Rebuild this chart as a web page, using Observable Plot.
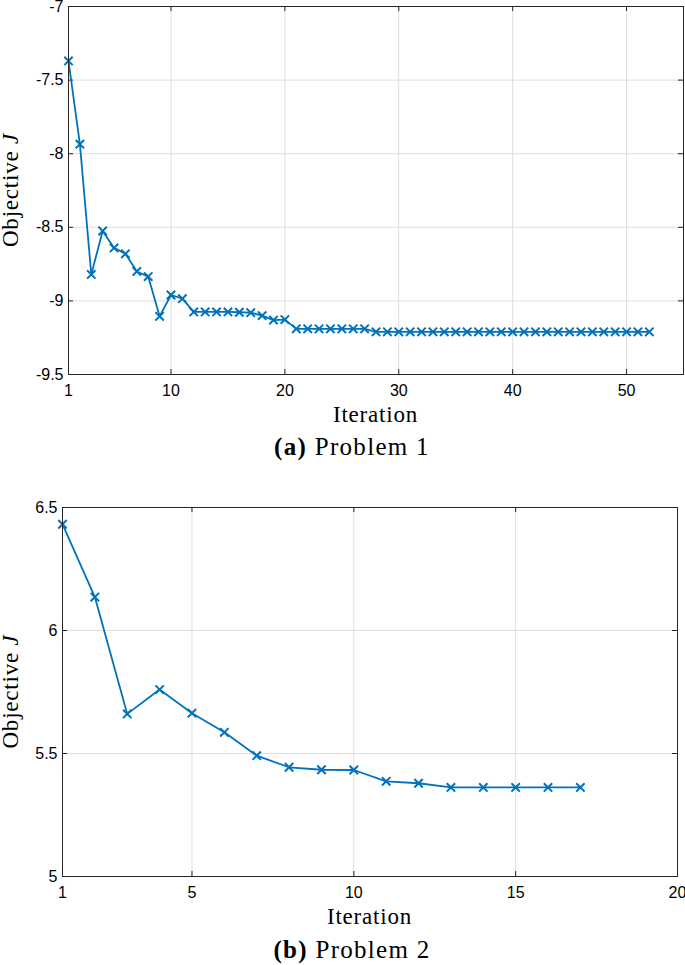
<!DOCTYPE html>
<html><head><meta charset="utf-8">
<script src="https://cdn.jsdelivr.net/npm/d3@7"></script>
<script src="https://cdn.jsdelivr.net/npm/@observablehq/plot@0.6"></script>
<style>
body{margin:0;background:#fff;}
#wrap{position:relative;width:685px;height:965px;overflow:hidden;background:#fff;}
#wrap svg{position:absolute;left:0;}
</style></head><body><div id="wrap"></div>
<script>
// ---- Data: Problem 1 (objective J per iteration, iterations 1..52) ----
const values1 = [
  -7.37, -7.935, -8.82, -8.525, -8.64, -8.68, -8.80, -8.835, -9.105, -8.96,
  -8.985, -9.075, -9.075, -9.075, -9.075, -9.077, -9.08, -9.10, -9.13, -9.127,
  -9.19, -9.19, -9.19, -9.19, -9.19, -9.19, -9.19,
  -9.21, -9.21, -9.21, -9.21, -9.21, -9.21, -9.21, -9.21, -9.21, -9.21,
  -9.21, -9.21, -9.21, -9.21, -9.21, -9.21, -9.21, -9.21, -9.21, -9.21,
  -9.21, -9.21, -9.21, -9.21, -9.21
];
const xTicks1 = [1, 10, 20, 30, 40, 50];
const yTicks1 = [-7, -7.5, -8, -8.5, -9, -9.5];

// ---- Data: Problem 2 (iterations 1..17) ----
const values2 = [
  6.432, 6.136, 5.661, 5.760, 5.664, 5.586, 5.491, 5.444, 5.434, 5.433,
  5.387, 5.379, 5.362, 5.362, 5.362, 5.362, 5.362
];
const xTicks2 = [1, 5, 10, 15, 20];
const yTicks2 = [5, 5.5, 6, 6.5];

const serif = "'Liberation Serif', 'DejaVu Serif', serif";
const sans = "'Liberation Sans', Arial, sans-serif";
const ink = "#262626";
const blue = "#0072BD";

function drawChart(o) {
  const W = 685;
  const data = o.values.map((v, i) => ({it: i + 1, v}));
  const ph = o.height - o.mt - o.mb, pw = W - o.ml - o.mr;
  const tk = 5;
  const svg = Plot.plot({
    width: W, height: o.height,
    marginTop: o.mt, marginBottom: o.mb, marginLeft: o.ml, marginRight: o.mr,
    style: {fontFamily: sans, fontSize: "15px", color: "#000", background: "#fff", overflow: "visible"},
    x: {domain: o.xDomain},
    y: {domain: o.yDomain},
    marks: [
      Plot.gridX(o.xTicks, {stroke: "#dedede", strokeOpacity: 1}),
      Plot.gridY(o.yTicks, {stroke: "#dedede", strokeOpacity: 1}),
      Plot.ruleX(o.xTicks, {x: d => d, insetTop: ph - tk, stroke: ink}),
      Plot.ruleX(o.xTicks, {x: d => d, insetBottom: ph - tk, stroke: ink}),
      Plot.ruleY(o.yTicks, {y: d => d, insetRight: pw - tk, stroke: ink}),
      Plot.ruleY(o.yTicks, {y: d => d, insetLeft: pw - tk, stroke: ink}),
      Plot.axisX(o.xTicks, {tickSize: 0, tickPadding: 10, label: null, tickFormat: d => String(d), fill: "#000", fontSize: 16, fontFamily: sans}),
      Plot.axisY(o.yTicks, {tickSize: 0, tickPadding: 5, label: null, tickFormat: d => String(d), fill: "#000", fontSize: 16, fontFamily: sans}),
      Plot.line(data, {x: "it", y: "v", stroke: blue, strokeWidth: 1.8}),
      Plot.dot(data, {x: "it", y: "v", symbol: "times", r: 3.9, stroke: blue, strokeWidth: 2}),
      Plot.frame({stroke: ink, strokeWidth: 1})
    ]
  });
  svg.style.top = o.top + "px";
  const s = d3.select(svg);
  s.append("text")
    .attr("x", o.ml + pw / 2).attr("y", o.mt + ph + 47.5)
    .attr("text-anchor", "middle")
    .attr("font-family", serif).attr("font-size", 23).attr("letter-spacing", "0.8px")
    .attr("fill", "#000")
    .text("Iteration");
  const yl = s.append("text")
    .attr("transform", `translate(18,${o.mt + ph / 2}) rotate(-90)`)
    .attr("text-anchor", "middle")
    .attr("font-family", serif).attr("font-size", 23).attr("letter-spacing", "0.8px")
    .attr("fill", "#000");
  yl.append("tspan").text("Objective ");
  yl.append("tspan").attr("font-style", "italic").text("J");
  const cap = s.append("text")
    .attr("x", 352).attr("y", o.capY)
    .attr("text-anchor", "middle")
    .attr("font-family", serif).attr("font-size", 25).attr("letter-spacing", "1.3px")
    .attr("fill", "#000");
  cap.append("tspan").attr("font-weight", "bold").text(o.capTag);
  cap.append("tspan").text(" " + o.capText);
  document.getElementById("wrap").appendChild(svg);
}

drawChart({
  values: values1, xDomain: [1, 55], xTicks: xTicks1, yDomain: [-9.5, -7], yTicks: yTicks1,
  top: 0, height: 470, mt: 6, mb: 96, ml: 68, mr: 2,
  capY: 455, capTag: "(a)", capText: "Problem 1"
});
drawChart({
  values: values2, xDomain: [1, 20], xTicks: xTicks2, yDomain: [5, 6.5], yTicks: yTicks2,
  top: 490, height: 475, mt: 17, mb: 89, ml: 62, mr: 8,
  capY: 468, capTag: "(b)", capText: "Problem 2"
});
</script>
</body></html>
